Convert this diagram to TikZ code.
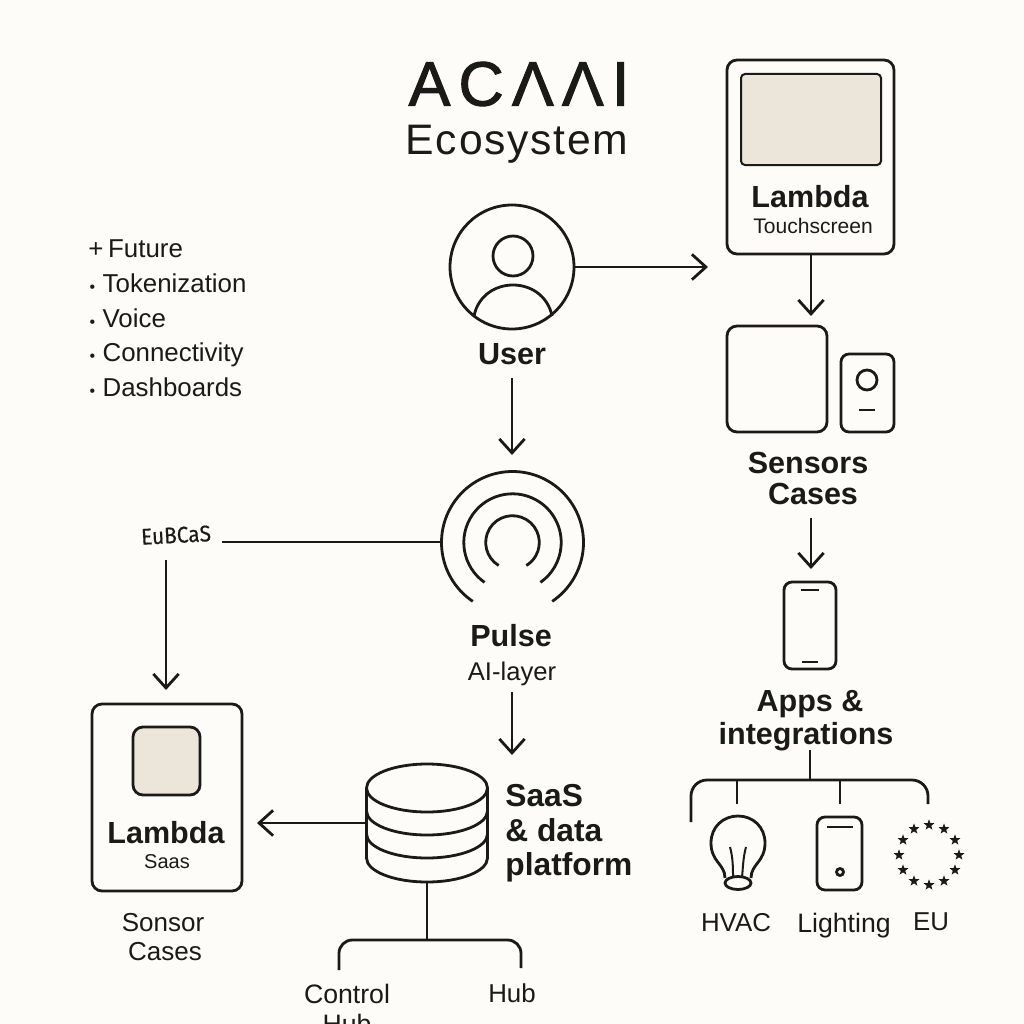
\documentclass[tikz,border=0pt]{standalone}
\usepackage{fontspec}
\setmainfont{Liberation Sans}
\newfontfamily\logofont[LetterSpace=13,FakeBold=1.6]{Liberation Sans}
\newfontfamily\ecofont[LetterSpace=4]{Liberation Sans}
\newfontfamily\notefont[FakeBold=0.4]{Fira Sans}
\usetikzlibrary{arrows.meta,shapes.geometric}
\definecolor{paper}{HTML}{FDFCF9}
\definecolor{ink}{HTML}{1A1A18}
\definecolor{sand}{HTML}{ECE5DA}
\newcommand{\dotitem}{\hspace{1pt}{\fontsize{12}{12}\selectfont •}\hspace{5.5pt}}
\tikzset{every picture/.style={line width=2.1pt},
  wh/.style 2 args={minimum width=#1*0.75pt,minimum height=#2*0.75pt,inner sep=0pt},
  box/.style={draw=ink,rectangle,rounded corners=7.5pt},
  arr/.style={draw=ink,-{Straight Barb[length=10.5pt,width=19pt,line width=2.1pt]}},
  wire/.style={draw=ink},
  lab/.style={text=ink,font=\fontsize{19.4}{22}\selectfont,inner sep=0pt,text depth=0pt},
  head/.style={text=ink,font=\bfseries\fontsize{22.9}{26}\selectfont,inner sep=0pt,text depth=0pt},
  eustar/.style={star,star points=5,star point ratio=2.4,fill=ink,inner sep=0pt,minimum size=8.5pt}}

\begin{document}
\begin{tikzpicture}[x=0.75pt,y=0.75pt,yscale=-1,xscale=1]
	%background
	\fill [paper] (0,0) rectangle (1024,1024);
	\useasboundingbox (0,0) rectangle (1024,1024);

	% Title
	\draw (519,84) node (logo) [text=ink,font=\logofont\fontsize{47}{50}\selectfont,inner sep=0pt] {ACΛΛI};
	\draw (517,144) node (ecosystem) [text=ink,font=\ecofont\fontsize{32}{36}\selectfont,inner sep=0pt] {Ecosystem};

	% User
	\node (user) [draw=ink,circle,minimum size=124*0.75pt,inner sep=0pt] at (512,267) {};
	\draw [ink] (513,256) circle [radius=20];
	\draw [ink] (474,316) .. controls (478,296) and (495,285) .. (513,285) .. controls (531,285) and (548,296) .. (552,316);
	\draw (512,354) node (userlabel) [head] {User};

	% Lambda touchscreen
	\node (touchbox) [box,wh={167}{194}] at (810.5,157) {};
	\node (screen) [draw=ink,fill=sand,rounded corners=3pt,wh={140}{91},line width=1.5pt] at (811,119.5) {};
	\draw (810,196) node (touchtitle) [head] {Lambda};
	\draw (813,226) node (touchsub) [lab,font=\fontsize{15.8}{18}\selectfont] {Touchscreen};

	% Sensors
	\node (sensorsq) [box,wh={100}{106}] at (777,379) {};
	\node (sensorsm) [box,rounded corners=6pt,wh={53}{78}] at (867.5,393) {};
	\draw [ink] (867,380) circle [radius=10];
	\draw [ink] (859,410) -- (875,410);
	\draw (808,463) node (sensorslabel) [head] {Sensors};
	\draw (813,494) node (caseslabel) [head] {Cases};

	% Phone
	\node (phone) [box,rounded corners=6pt,wh={52}{87}] at (810,625.5) {};
	\draw [ink] (801,590) -- (819,590);
	\draw [ink] (802,662) -- (818,662);
	\draw (810,701) node (appslabel) [head] {Apps \&};
	\draw (806,733) node (intlabel) [head] {integrations};

	% Tree below apps
	\coordinate (treetop) at (810,750);
	\coordinate (treemid) at (810,780);
	\coordinate (treea) at (691,822);
	\coordinate (treeb) at (928,804);
	\coordinate (treec) at (737,804);
	\coordinate (treed) at (840,804);
	\draw [wire] (treetop) -- (treemid);
	\draw [wire,rounded corners=12pt] (treea) -- (691,780) -- (928,780) -- (treeb);
	\draw [wire] (treec) -- (treec |- treemid);
	\draw [wire] (treed) -- (treed |- treemid);

	% Bulb
	\draw [ink] (725,878) .. controls (725,864) and (711,862) .. (711,843) .. controls (711,827) and (723,816) .. (738,816) .. controls (753,816) and (765,827) .. (765,843) .. controls (765,862) and (751,864) .. (751,878);
	\draw [ink] (738,883) ellipse [x radius=13,y radius=6.5];
	\draw [ink,line width=1.5pt] (730,847) .. controls (733,858) and (733,868) .. (733,877);
	\draw [ink,line width=1.5pt] (746,847) .. controls (743,858) and (743,868) .. (742,877);

	% Lighting
	\node (lightbox) [box,rounded corners=6pt,wh={45}{73}] at (839.5,853.5) {};
	\draw [ink] (827,827) -- (853,827);
	\draw [ink] (840,872) circle [radius=3.5];

	% EU stars
	\foreach \i in {0,...,11}
		\node (star\i) [eustar] at ({929+30*cos(30*\i)},{855+30*sin(30*\i)}) {};

	\draw (736,922) node (hvac) [lab] {HVAC};
	\draw (844,923) node (lighting) [lab,font=\fontsize{20}{22}\selectfont] {Lighting};
	\draw (931,922) node (eu) [lab] {EU};

	% List
	\draw (87,249) node (future) [lab,anchor=west] {+\hspace{3.5pt}Future};
	\draw (87,283) node (token) [lab,anchor=west] {\dotitem Tokenization};
	\draw (87,318) node (voice) [lab,anchor=west] {\dotitem Voice};
	\draw (87,352) node (connect) [lab,anchor=west] {\dotitem Connectivity};
	\draw (87,387) node (dash) [lab,anchor=west] {\dotitem Dashboards};

	% Pulse
	\coordinate (pulse) at (512.5,542.5);
	\foreach \r/\a in {71/34,48.7/35,26.8/31}
		\draw [ink] (pulse) ++({90+\a}:\r) arc [start angle={90+\a},end angle={450-\a},radius=\r];
	\coordinate (pulsewest) at (441,542);
	\draw (511,635) node (pulselabel) [head] {Pulse};
	\draw (512,671) node (ailayer) [lab,font=\fontsize{19.2}{21}\selectfont] {AI-layer};

	% Hand note
	\draw (176,535) node (note) [lab,font=\notefont\fontsize{17}{19}\selectfont,rotate=3,xscale=0.92] {EuBCaS};
	\coordinate (notea) at (222,542);
	\coordinate (noteb) at (166,560);
	\coordinate (notec) at (166,690);
	\draw [wire] (notea) -- (pulsewest);
	\draw [arr] (noteb) -- (notec);

	% Lambda saas
	\node (saasbox) [box,wh={150}{187}] at (167,797.5) {};
	\node (saaschip) [draw=ink,fill=sand,rounded corners=7.5pt,wh={67}{68}] at (166.5,761) {};
	\draw (166,832) node (saastitle) [head] {Lambda};
	\draw (167,862) node (saassub) [lab,font=\fontsize{15}{16}\selectfont] {Saas};
	\draw (163,922) node (sonsor) [lab,font=\fontsize{19.5}{21}\selectfont] {Sonsor};
	\draw (165,951) node (sonsorcases) [lab,font=\fontsize{19.5}{21}\selectfont] {Cases};

	% Database
	\coordinate (dbw) at (367,823);
	\coordinate (dbs) at (427,882);
	\draw [ink] (427,788) ellipse [x radius=60.5,y radius=24];
	\draw [ink] (366.5,788) -- (366.5,858) arc [start angle=180,end angle=0,x radius=60.5,y radius=24] -- (487.5,788);
	\draw [ink] (366.5,811) arc [start angle=180,end angle=0,x radius=60.5,y radius=24];
	\draw [ink] (366.5,834) arc [start angle=180,end angle=0,x radius=60.5,y radius=24];
	\draw (504,795) node (saas1) [head,font=\bfseries\fontsize{23.8}{26}\selectfont,anchor=west] {SaaS};
	\draw (504,830) node (saas2) [head,font=\bfseries\fontsize{23.8}{26}\selectfont,anchor=west] {\& data};
	\draw (504,864) node (saas3) [head,font=\bfseries\fontsize{23.8}{26}\selectfont,anchor=west] {platform};

	% Tree below database
	\coordinate (hubmid) at (427,940);
	\coordinate (huba) at (339,970);
	\coordinate (hubb) at (521,968);
	\draw [wire] (dbs) -- (hubmid);
	\draw [wire,rounded corners=10pt] (huba) -- (339,940) -- (521,940) -- (hubb);
	\draw (347,994) node (control) [lab,font=\fontsize{20}{22}\selectfont] {Control};
	\draw (347,1024) node (controlhub) [lab,font=\fontsize{20}{22}\selectfont] {Hub};
	\draw (512,993) node (hub) [lab] {Hub};

	% Arrows
	\coordinate (ua) at (708,267);
	\coordinate (ub) at (512,378);
	\coordinate (uc) at (512,455);
	\coordinate (ta) at (811,254);
	\coordinate (tb) at (811,316);
	\coordinate (sa) at (811,518);
	\coordinate (sb) at (811,569);
	\coordinate (pa) at (512,692);
	\coordinate (pb) at (512,755);
	\coordinate (da) at (257,823);
	\draw [arr] (user.east) -- (ua);
	\draw [arr] (ub) -- (uc);
	\draw [arr] (ta) -- (tb);
	\draw [arr] (sa) -- (sb);
	\draw [arr] (pa) -- (pb);
	\draw [arr] (dbw) -- (da);
\end{tikzpicture}
\end{document}
